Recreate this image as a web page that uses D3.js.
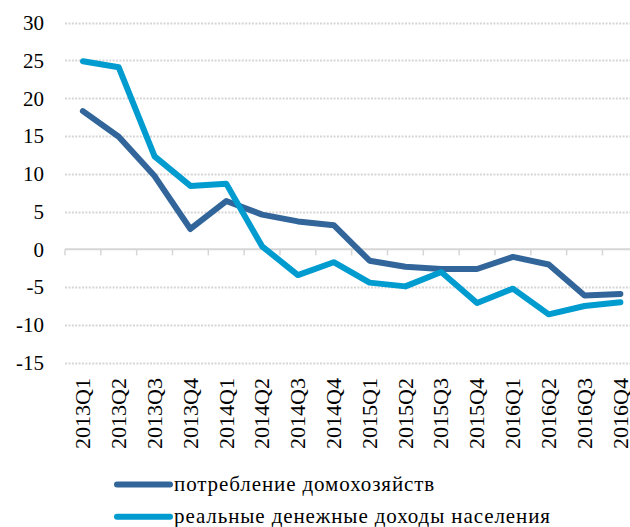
<!DOCTYPE html>
<html>
<head>
<meta charset="utf-8">
<script src="https://cdn.jsdelivr.net/npm/d3@7"></script>
<style>
  svg text { font-family: "Liberation Serif" !important; }
</style>
</head>
<body style="margin:0">
<script>
var quarters = ["2013Q1","2013Q2","2013Q3","2013Q4","2014Q1","2014Q2","2014Q3","2014Q4",
                "2015Q1","2015Q2","2015Q3","2015Q4","2016Q1","2016Q2","2016Q3","2016Q4"];
var consumption = [18.3, 14.9, 9.7, 2.7, 6.4, 4.6, 3.7, 3.2, -1.5, -2.3, -2.6, -2.6, -1.0, -2.0, -6.1, -5.9];
var income = [24.9, 24.1, 12.3, 8.4, 8.7, 0.4, -3.4, -1.7, -4.4, -4.9, -3.0, -7.1, -5.2, -8.6, -7.5, -7.0];
var yTicks = [30, 25, 20, 15, 10, 5, 0, -5, -10, -15];
var seriesNames = ["потребление домохозяйств", "реальные денежные доходы населения"];
var seriesColors = ["#32669a", "#009bcf"];

var fullWidth = 630;
var fullHeight = 527;

var svg = d3.select("body").append("svg")
  .attr("width", fullWidth)
  .attr("height", fullHeight)
  .attr("font-family", "Liberation Serif");

var x = d3.scaleBand().domain(quarters).range([65, 638.3]);
var y = d3.scaleLinear().domain([-15, 30]).range([362.7, 22.7]);

// dotted gridlines (not at zero)
svg.append("g").selectAll("line")
  .data(yTicks.filter(function(d) { return d !== 0; }))
  .enter().append("line")
    .attr("x1", 65)
    .attr("x2", fullWidth)
    .attr("y1", function(d) { return Math.round(y(d)) + 0.5; })
    .attr("y2", function(d) { return Math.round(y(d)) + 0.5; })
    .attr("stroke", "#d6d6d6")
    .attr("stroke-width", 2)
    .attr("stroke-dasharray", "2,1.4");

// y labels
svg.append("g").selectAll("text")
  .data(yTicks)
  .enter().append("text")
    .attr("x", 44)
    .attr("y", function(d) { return y(d); })
    .attr("dy", "0.35em")
    .attr("text-anchor", "end")
    .attr("font-family", "Liberation Serif")
    .attr("font-size", 21)
    .text(function(d) { return d; });

// zero axis with ticks
var xAxis = svg.append("g")
  .attr("transform", "translate(0," + y(0) + ")")
  .call(d3.axisBottom(x).tickSize(6).tickFormat("").tickSizeOuter(0));
xAxis.select(".domain").remove();
xAxis.selectAll(".tick line")
  .attr("transform", function() { return "translate(" + (-x.bandwidth() / 2) + ",0)"; })
  .attr("stroke", "#d6d6d6")
  .attr("stroke-width", 1.5);
svg.append("line")
  .attr("x1", 65).attr("x2", fullWidth)
  .attr("y1", y(0)).attr("y2", y(0))
  .attr("stroke", "#d6d6d6")
  .attr("stroke-width", 2);

// rotated category labels
svg.append("g").selectAll("text")
  .data(quarters)
  .enter().append("text")
    .attr("transform", function(d) {
      return "translate(" + (x(d) + x.bandwidth() / 2) + ",378) rotate(-90)";
    })
    .attr("dy", "0.33em")
    .attr("text-anchor", "end")
    .attr("font-family", "Liberation Serif")
    .attr("font-size", 22)
    .text(function(d) { return d; });

var line = d3.line()
  .x(function(d, i) { return x(quarters[i]) + x.bandwidth() / 2; })
  .y(function(d) { return y(d); });

[consumption, income].forEach(function(values, k) {
  svg.append("path")
    .datum(values)
    .attr("fill", "none")
    .attr("stroke", seriesColors[k])
    .attr("stroke-width", 6)
    .attr("stroke-linejoin", "round")
    .attr("stroke-linecap", "round")
    .attr("d", line);
});

// legend
var legend = svg.append("g").selectAll("g")
  .data(seriesNames)
  .enter().append("g")
    .attr("transform", function(d, i) { return "translate(0," + (484.5 + i * 32.3) + ")"; });

legend.append("line")
  .attr("x1", 117).attr("x2", 170)
  .attr("stroke", function(d, i) { return seriesColors[i]; })
  .attr("stroke-width", 6)
  .attr("stroke-linecap", "round");

legend.append("text")
  .attr("x", 174)
  .attr("y", 6)
  .attr("font-family", "Liberation Serif")
  .attr("font-size", 21)
  .attr("letter-spacing", 0.9)
  .text(function(d) { return d; });
</script>
</body>
</html>
